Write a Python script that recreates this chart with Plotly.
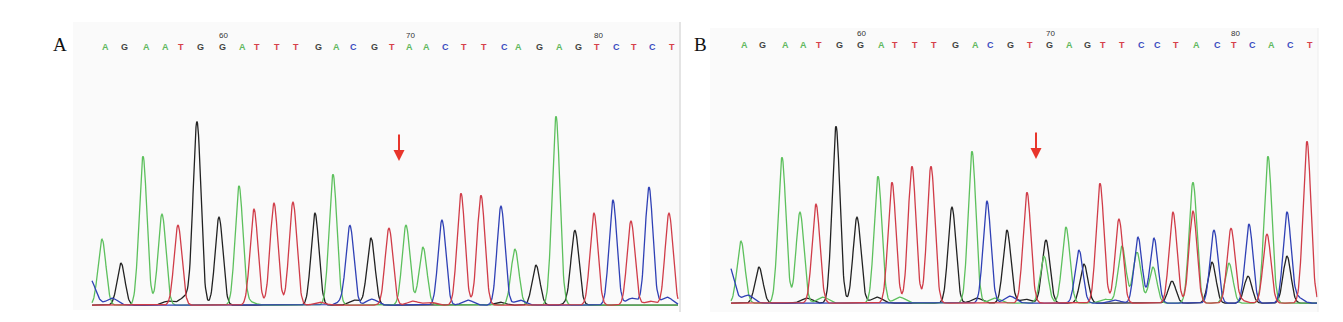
import numpy as np
import plotly.graph_objects as go

# ---------------- data ----------------
# Panel A: called bases, peak positions (scan units) and peak heights
A_bases = list("AGAATGGATTTGACGTAACTTCAGAGTCTCT")
A_pos = [102, 121, 143, 162, 178, 197, 219, 239, 254, 274, 293, 315, 333, 350, 371,
         389, 406, 423, 442, 461, 481, 501, 515, 536, 556, 575, 594, 613, 631, 649, 669]
A_h = [66, 42, 149, 91, 80, 183, 88, 119, 96, 102, 103, 92, 131, 78, 67,
       77, 80, 58, 85, 112, 110, 99, 56, 40, 189, 70, 92, 105, 84, 118, 92]
# Panel A background signal (channel, position, height)
A_bg_base = ["C", "C", "G", "G", "T", "C", "G", "C", "T", "T", "C", "C", "G", "C", "T", "C", "A", "G"]
A_bg_pos = [90, 112, 168, 185, 320, 343, 355, 372, 413, 430, 468, 520, 573, 632, 650, 667, 250, 500]
A_bg_h = [26, 7, 4, 8, 3, 4, 5, 6, 4, 3, 5, 5, 5, 7, 4, 8, 3, 3]

# Panel B
B_bases = list("AGAATGGATTTGACGTGAGTTCCTACTCACT")
B_pos = [741, 759, 782, 800, 816, 836, 857, 878, 892, 912, 931, 952, 972, 987, 1007,
         1027, 1046, 1066, 1084, 1100, 1119, 1138, 1154, 1173, 1193, 1214, 1231, 1249, 1268, 1287, 1307]
B_h = [62, 36, 146, 91, 99, 177, 86, 127, 121, 137, 137, 96, 152, 102, 73,
       111, 63, 76, 39, 120, 84, 66, 65, 91, 121, 73, 74, 79, 147, 90, 162]
# Panel B secondary (overlapping) peaks
B_sec_base = ["A", "C", "A", "A", "A", "G", "T", "G", "A", "G", "T", "G"]
B_sec_pos = [1044, 1079, 1122, 1137, 1153, 1172, 1193, 1212, 1229, 1248, 1267, 1287]
B_sec_h = [47, 53, 57, 51, 36, 22, 92, 41, 40, 27, 69, 47]
B_bg_base = ["C", "C", "G", "G", "G", "A", "A", "A", "C", "G", "A", "C", "T", "C"]
B_bg_pos = [728, 748, 807, 877, 977, 823, 900, 995, 1010, 1025, 1105, 1115, 1240, 1297]
B_bg_h = [40, 8, 5, 6, 5, 6, 6, 5, 7, 4, 4, 3, 3, 6]

A_start_number = 54
B_start_number = 54
A_mark_pos = 399   # red arrow position
B_mark_pos = 1036

# ---------------- style ----------------
trace_col = {"A": "#5dc05d", "C": "#2f40b5", "G": "#222222", "T": "#d03c48"}
letter_col = {"A": "#5fb85f", "C": "#3a4cc0", "G": "#444444", "T": "#d6404a"}
SIG = 3.9
SIG_BG = 5.5
W, H = 1343, 322


def build_signal(xgrid, ch, groups):
    y = np.zeros_like(xgrid)
    for bases, pos, hs, sig in groups:
        for b, p, hh in zip(bases, pos, hs):
            if b == ch:
                y += hh * np.exp(-0.5 * ((xgrid - p) / sig) ** 2)
    return y


fig = go.Figure()

panels = [
    dict(x="x", y="y", bases=A_bases, pos=A_pos, h=A_h, start=A_start_number,
         groups=[(A_bases, A_pos, A_h, SIG), (A_bg_base, A_bg_pos, A_bg_h, SIG_BG)],
         xr=(92, 678), mark=A_mark_pos, letter_y=259, num_y=264),
    dict(x="x2", y="y2", bases=B_bases, pos=B_pos, h=B_h, start=B_start_number,
         groups=[(B_bases, B_pos, B_h, SIG), (B_sec_base, B_sec_pos, B_sec_h, SIG),
                 (B_bg_base, B_bg_pos, B_bg_h, SIG_BG)],
         xr=(731, 1317), mark=B_mark_pos, letter_y=259, num_y=264),
]

annotations = []
for pn in panels:
    xg = np.arange(pn["xr"][0], pn["xr"][1] + 0.01, 0.5)
    for ch in ["G", "A", "C", "T"]:
        yv = build_signal(xg, ch, pn["groups"]) + 0.8
        fig.add_trace(go.Scatter(x=xg, y=yv, mode="lines", xaxis=pn["x"], yaxis=pn["y"],
                                 line=dict(color=trace_col[ch], width=1.3),
                                 hoverinfo="skip", showlegend=False))
    for i, (b, p) in enumerate(zip(pn["bases"], pn["pos"])):
        annotations.append(dict(x=p + 3, y=pn["letter_y"], xref=pn["x"], yref=pn["y"],
                                text="<b>" + b + "</b>", showarrow=False,
                                font=dict(family="Liberation Sans", size=9, color=letter_col[b]),
                                xanchor="center", yanchor="middle"))
        num = pn["start"] + i
        if num % 10 == 0:
            annotations.append(dict(x=p + 4, y=pn["num_y"], xref=pn["x"], yref=pn["y"], text=str(num),
                                    showarrow=False,
                                    font=dict(family="Liberation Sans Narrow, Liberation Sans",
                                              size=8, color="#333333"),
                                    xanchor="center", yanchor="bottom"))
    annotations.append(dict(x=pn["mark"], y=145, xref=pn["x"], yref=pn["y"], text="",
                            showarrow=True, ax=0, ay=-28, arrowhead=2, arrowsize=1.1,
                            arrowwidth=2, arrowcolor="#e8352b"))

annotations.append(dict(x=60 / W, y=1 - 44 / H, xref="paper", yref="paper", text="A", showarrow=False,
                        font=dict(family="Liberation Serif", size=19, color="#111111"),
                        xanchor="center", yanchor="middle"))
annotations.append(dict(x=700 / W, y=1 - 44 / H, xref="paper", yref="paper", text="B", showarrow=False,
                        font=dict(family="Liberation Serif", size=19, color="#111111"),
                        xanchor="center", yanchor="middle"))

shapes = [
    dict(type="line", xref="paper", yref="paper", x0=680 / W, x1=680 / W, y0=1 - 312 / H, y1=1 - 22 / H,
         line=dict(color="#e4e4e4", width=2)),
    dict(type="line", xref="paper", yref="paper", x0=1318 / W, x1=1318 / W, y0=1 - 312 / H, y1=1 - 28 / H,
         line=dict(color="#eeeeee", width=1)),
]

ax_common = dict(visible=False, showgrid=False, zeroline=False, fixedrange=True)
fig.update_layout(
    width=W, height=H, margin=dict(l=0, r=0, t=0, b=0),
    paper_bgcolor="white", plot_bgcolor="#fafafa",
    xaxis=dict(domain=[73 / W, 680 / W], range=[73, 680], **ax_common),
    yaxis=dict(domain=[1 - 310 / H, 1 - 22 / H], range=[-4, 284], **ax_common),
    xaxis2=dict(domain=[710 / W, 1318 / W], range=[710, 1318], anchor="y2", **ax_common),
    yaxis2=dict(domain=[1 - 312 / H, 1 - 28 / H], range=[-8, 276], anchor="x2", **ax_common),
    annotations=annotations, shapes=shapes, showlegend=False,
)

fig.write_html("out.html")
